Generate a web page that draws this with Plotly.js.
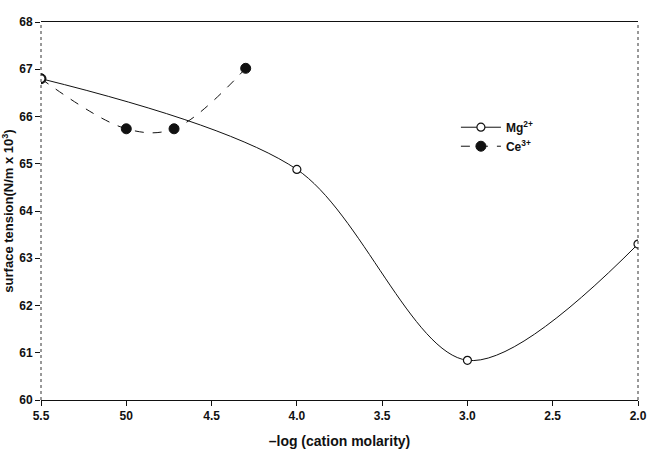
<!DOCTYPE html>
<html>
<head>
<meta charset="utf-8">
<script src="https://cdn.plot.ly/plotly-3.0.1.min.js"></script>
<style>
  html, body { margin: 0; padding: 0; background: #fff; }
  #chart { width: 650px; height: 456px; }
</style>
</head>
<body>
<div id="chart"></div>
<script>
// -log of cation molarity and measured surface tension
const mgX = [5.5, 4.0, 3.0, 2.0];
const mgY = [66.8, 64.88, 60.84, 63.3];

const ceX = [5.5, 5.0, 4.72, 4.3];
const ceY = [66.8, 65.74, 65.74, 67.02];

const xTickVals = [5.5, 5.0, 4.5, 4.0, 3.5, 3.0, 2.5, 2.0];
const xTickText = ['5.5', '50', '4.5', '4.0', '3.5', '3.0', '2.5', '2.0'];
const yTickVals = [60, 61, 62, 63, 64, 65, 66, 67, 68];

const font = { family: 'Liberation Sans, Arial, sans-serif', color: '#111' };

const traces = [
  {
    name: 'Ce<sup>3+</sup>',
    x: ceX, y: ceY,
    mode: 'lines+markers',
    line: { color: '#111', width: 1, dash: 'dash', shape: 'spline', smoothing: 1 },
    marker: { symbol: 'circle', size: 10, color: '#111', line: { color: '#111', width: 1 } }
  },
  {
    name: 'Mg<sup>2+</sup>',
    x: mgX, y: mgY,
    mode: 'lines+markers',
    line: { color: '#111', width: 1, shape: 'spline', smoothing: 0.9 },
    marker: { symbol: 'circle', size: 8, color: '#fff', line: { color: '#111', width: 1.2 } }
  }
];

const layout = {
  width: 650, height: 456,
  margin: { l: 41, r: 12, t: 22, b: 56 },
  paper_bgcolor: '#fff', plot_bgcolor: '#fff',
  font: font,
  showlegend: true,
  legend: {
    x: 0.695, y: 0.76, xanchor: 'left', yanchor: 'top',
    traceorder: 'reversed',
    bgcolor: 'rgba(0,0,0,0)',
    font: { family: font.family, size: 12, color: '#111', weight: 'bold' },
    itemwidth: 40, tracegroupgap: 4
  },
  xaxis: {
    range: [5.5, 2.0],
    tickmode: 'array', tickvals: xTickVals, ticktext: xTickText,
    ticks: 'outside', ticklen: 5, tickcolor: '#111', tickwidth: 1,
    showline: true, linecolor: '#111', linewidth: 1, mirror: true,
    showgrid: false, zeroline: false,
    tickfont: { family: font.family, size: 12, color: '#111', weight: 'bold' },
    title: { text: '\u2013log (cation molarity)', standoff: 13,
             font: { family: font.family, size: 14, color: '#111', weight: 'bold' } }
  },
  yaxis: {
    range: [60, 68],
    tickmode: 'array', tickvals: yTickVals,
    ticks: 'outside', ticklen: 5, tickcolor: '#111', tickwidth: 1,
    showline: false, showgrid: false, zeroline: false,
    tickfont: { family: font.family, size: 12, color: '#111', weight: 'bold' },
    title: { text: 'surface tension(N/m x 10<sup>3</sup>)', standoff: 5,
             font: { family: font.family, size: 13, color: '#111', weight: 'bold' } },
    automargin: false
  },
  shapes: [
    { type: 'line', xref: 'paper', yref: 'paper', x0: 0, x1: 0, y0: 0, y1: 1,
      line: { color: '#333', width: 1, dash: 'dot' } },
    { type: 'line', xref: 'paper', yref: 'paper', x0: 1, x1: 1, y0: 0, y1: 1,
      line: { color: '#333', width: 1, dash: 'dot' } }
  ]
};

Plotly.newPlot('chart', traces, layout, { displayModeBar: false, staticPlot: true });
</script>
</body>
</html>
